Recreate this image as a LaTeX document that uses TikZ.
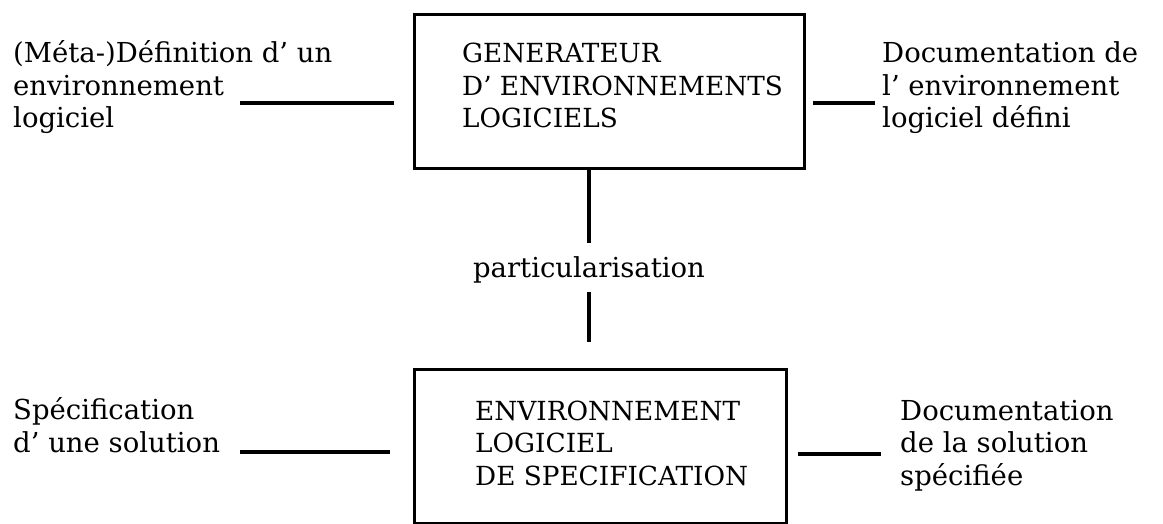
\documentclass[tikz,border=0pt]{standalone}
\usepackage{fontspec}
\setmainfont{DejaVu Serif}
\begin{document}
\begin{tikzpicture}[x=1pt,y=-1pt,
  txt/.style={inner sep=0pt, align=left, anchor=base west, font=\fontsize{27.5}{32.5}\selectfont},
  caps/.style={txt, font=\fontsize{26.3}{32.5}\selectfont},
  blk/.style={draw, line width=3pt, inner sep=0pt, anchor=north west},
  conn/.style={line width=4pt}]
\useasboundingbox (0,0) rectangle (1163,524);
% boxes
\node[blk, minimum width=390pt, minimum height=154pt] (gen) at (413,13) {};
\node[blk, minimum width=372pt, minimum height=154pt] (spec) at (413,368) {};
% box texts (base = last line)
\node[caps] (gentxt) at (462,128) {GENERATEUR\\ D' ENVIRONNEMENTS\\ LOGICIELS};
\node[caps] (spectxt) at (475,485) {ENVIRONNEMENT\\ LOGICIEL\\ DE SPECIFICATION};
% side texts
\node[txt] (def) at (13,128) {(Méta-)Définition d' un\\ environnement\\ logiciel};
\node[txt] (doc1) at (882,128) {Documentation de\\ l' environnement\\ logiciel défini};
\node[txt] (sol) at (13,452) {Spécification\\ d' une solution};
\node[txt] (doc2) at (900,485) {Documentation\\ de la solution\\ spécifiée};
\node[txt, anchor=base] (part) at (589,277) {particularisation};
% connectors
\draw[conn] ([xshift=-19pt,yshift=-12pt]gen.west) -- ++(-154,0);
\draw[conn] ([xshift=7pt,yshift=-12pt]gen.east) -- ++(62,0);
\draw[conn] (part |- gen.south) -- ([yshift=13pt]part.north);
\draw[conn] ([yshift=-9pt]part.south) -- ([yshift=26pt]part |- spec.north);
\draw[conn] ([xshift=-23pt,yshift=-5pt]spec.west) -- ++(-150,0);
\draw[conn] ([xshift=10pt,yshift=-7pt]spec.east) -- ++(83,0);
\end{tikzpicture}
\end{document}
